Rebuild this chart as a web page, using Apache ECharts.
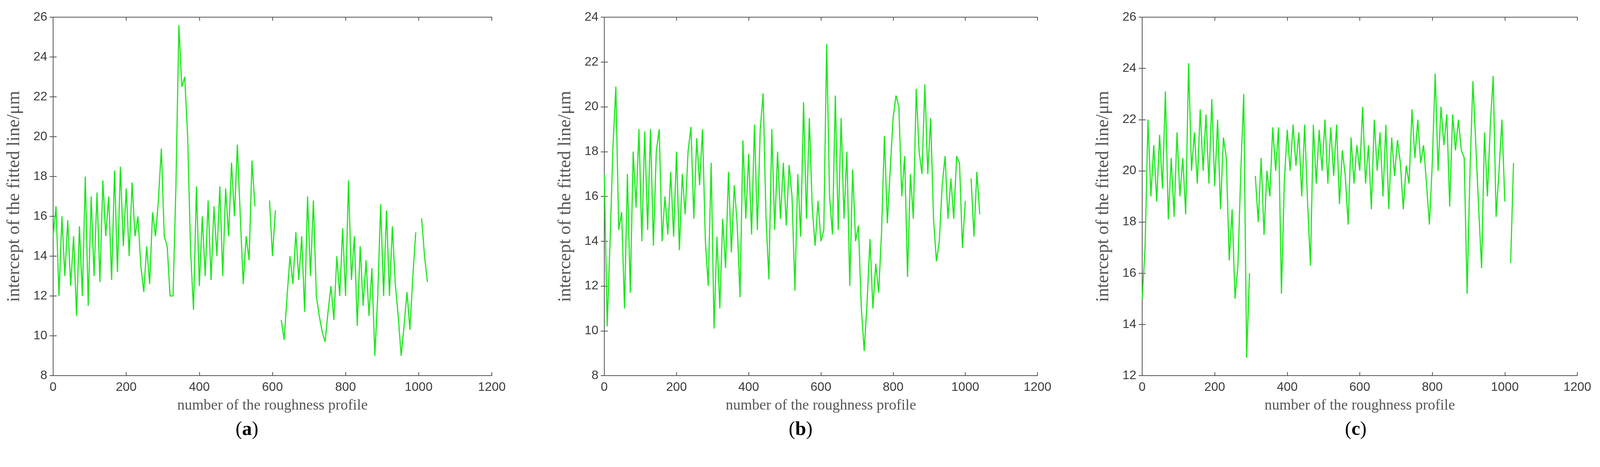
<!DOCTYPE html>
<html>
<head>
<meta charset="utf-8">
<script src="https://cdn.jsdelivr.net/npm/echarts@6/dist/echarts.min.js"></script>
<style>html,body{margin:0;padding:0;background:#fff}#chart{width:4320px;height:1196px}</style>
</head>
<body>
<div id="chart"></div>
<script>
// sample spacing along the profile index axis
const STEP = 8;

const interceptA = [
    15, 16.5, 12, 16, 13, 15.8, 12.5, 15, 11, 15.5, 12, 18, 11.5, 17, 13, 17.2,
    12.7, 17.8, 15, 17, 12.8, 18.3, 13.2, 18.5, 14.5, 17.4, 14, 17.7, 15, 16, 13.5, 12.2,
    14.5, 12.6, 16.2, 15, 16.8, 19.4, 15, 14.5, 12, 12, 17.6, 25.6, 22.5, 23, 20, 14.3,
    11.3, 17.5, 12.5, 16, 13, 16.8, 12.8, 16.5, 14, 17.5, 13, 17.4, 15, 18.7, 16, 19.6,
    16, 12.6, 15, 13.8, 18.8, 16.5, null, null, null, null, 16.8, 14, 16.3, null, 10.8, 9.8,
    12, 14, 12.6, 15.2, 12.8, 15, 11.2, 17, 13, 16.8, 12, 11, 10.2, 9.7, 11.2, 12.5,
    10.8, 14, 12, 15.4, 12, 17.8, 12.8, 15, 10.5, 14.5, 11.5, 13.8, 11, 13.4, 9, 12,
    16.6, 12, 16.3, 12, 15.5, 12.6, 11, 9, 10.5, 12.2, 10.3, 13, 15.2, null, 15.9, 14,
    12.7
];

const interceptB = [
    17, 10.2, 14, 18.2, 20.9, 14.5, 15.3, 11, 17, 11.7, 18, 15.5, 19, 14, 18.9, 14.5,
    19, 13.8, 18, 19, 14, 16, 14.3, 17.1, 14.2, 18, 13.6, 17, 15.2, 18, 19.1, 15,
    18.6, 16.5, 19, 14, 12, 17.5, 10.1, 14.2, 11, 15, 12.8, 17.1, 13.5, 16.5, 14.8, 11.5,
    18.5, 15, 17.9, 14.3, 19.2, 14.5, 19, 20.6, 15, 12.3, 19, 14.5, 18, 15, 17.5, 14.7,
    17.4, 16, 11.8, 17, 14.2, 20.2, 15, 19.5, 15.5, 13.8, 15.8, 14, 14.5, 22.8, 16, 14.3,
    20.5, 14.5, 19.5, 15, 18, 12, 17.2, 14, 14.7, 11, 9.1, 11.3, 14.1, 11, 13, 11.7,
    14.4, 18.7, 14.8, 17.2, 19.5, 20.5, 20, 16, 17.8, 12.4, 17, 15, 20.8, 18, 17, 21,
    17, 19.5, 15, 13.1, 14, 16.5, 17.8, 15, 16.8, 15, 17.8, 17.5, 13.7, 15.8, null, 16.8,
    14.2, 17.1, 15.2
];

const interceptC = [
    15, 17, 22, 19, 21, 18.8, 21.4, 19.3, 23.1, 18.1, 20.5, 18.2, 21.5, 19, 20.5, 18.3,
    24.2, 20, 21.5, 19.5, 22.4, 20, 22.2, 19.5, 22.8, 19.4, 22, 18.5, 21.3, 20.5, 16.5, 18.5,
    15, 16.3, 20, 23, 12.7, 16, null, 19.8, 18, 20.5, 17.5, 20, 19, 21.7, 20, 21.7,
    15.2, 19.6, 21.6, 20, 21.8, 20.2, 21.5, 19, 21.8, 18.8, 16.3, 21.8, 19.5, 21.6, 20, 22,
    19.5, 21.7, 19.8, 21.8, 18.7, 20.8, 19.8, 17.9, 21.3, 19.5, 21, 20, 22.5, 19.5, 21, 18.5,
    22, 20, 21.5, 19, 21.8, 18.5, 21.3, 19.8, 21.2, 20.3, 18.5, 20.2, 19.5, 22.4, 20.5, 22,
    20.3, 21, 19.5, 17.9, 20.3, 23.8, 20, 22.5, 21, 22.2, 18.6, 22.2, 20.8, 22, 20.8, 20.5,
    15.2, 20, 23.5, 21, 18.5, 16.2, 21.5, 19, 21.8, 23.7, 18.2, 20, 22, 18.8, null, 16.4,
    20.3
];

const xTicks = { min: 0, max: 1200, interval: 200 };
const yRangeA = { min: 8, max: 26, interval: 2 };
const yRangeB = { min: 8, max: 24, interval: 2 };
const yRangeC = { min: 12, max: 26, interval: 2 };

const labels = ['a', 'b', 'c'];

const toPairs = arr => arr.map((v, i) => [i * STEP, v]);

const chart = echarts.init(document.getElementById('chart'));

const grids = [
    { left: 136, right: 3061, top: 44, bottom: 234 },
    { left: 1547, right: 1664, top: 44, bottom: 234 },
    { left: 2924, right: 282, top: 44, bottom: 234 }
];
const yRanges = [yRangeA, yRangeB, yRangeC];
const series = [interceptA, interceptB, interceptC];

const lineCol = '#555';
const tickLabel = { color: '#3a3a3a', fontSize: 32, fontFamily: 'Liberation Sans', formatter: v => String(v) };
const tick = { inside: true, length: 9, lineStyle: { color: lineCol, width: 2 } };

const xAxis = [], yAxis = [];
grids.forEach((g, i) => {
    xAxis.push({
        type: 'value', gridIndex: i, ...xTicks,
        name: 'number of the roughness profile', nameLocation: 'middle', nameGap: 58,
        nameTextStyle: { fontFamily: 'Liberation Serif', fontSize: 38, color: '#555' },
        axisLine: { lineStyle: { color: lineCol, width: 2 } },
        axisTick: tick,
        axisLabel: { ...tickLabel, margin: 14 },
        splitLine: { show: false }
    });
    xAxis.push({
        type: 'value', gridIndex: i, position: 'top', ...xTicks,
        axisLine: { lineStyle: { color: lineCol, width: 2 } },
        axisTick: tick,
        axisLabel: { show: false }, splitLine: { show: false }
    });
    yAxis.push({
        type: 'value', gridIndex: i, ...yRanges[i],
        name: 'intercept of the fitted line/μm', nameLocation: 'middle', nameGap: 76,
        nameTextStyle: { fontFamily: 'Liberation Serif', fontSize: 46, color: '#555' },
        axisLine: { show: true, lineStyle: { color: lineCol, width: 2 } },
        axisTick: { show: true, ...tick },
        axisLabel: { ...tickLabel, margin: 15 },
        splitLine: { show: false }
    });
    yAxis.push({
        type: 'value', gridIndex: i, position: 'right', ...yRanges[i],
        axisLine: { show: true, lineStyle: { color: lineCol, width: 2 } },
        axisTick: { show: true, ...tick },
        axisLabel: { show: false }, splitLine: { show: false }
    });
});

const labelX = [635, 2051, 3475];

chart.setOption({
    backgroundColor: '#fff',
    animation: false,
    grid: grids,
    xAxis: xAxis,
    yAxis: yAxis,
    series: series.map((d, i) => ({
        type: 'line', xAxisIndex: i * 2, yAxisIndex: i * 2,
        data: toPairs(d), showSymbol: false, connectNulls: false,
        lineStyle: { color: '#1ee81e', width: 3 }
    })),
    graphic: labels.map((l, i) => ({
        type: 'text', left: labelX[i] - 32, top: 1076,
        style: {
            text: '(' + '{b|' + l + '})',
            font: '50px "Liberation Serif"', fill: '#000',
            rich: { b: { font: 'bold 50px "Liberation Serif"', fill: '#000' } }
        }
    }))
});
</script>
</body>
</html>
